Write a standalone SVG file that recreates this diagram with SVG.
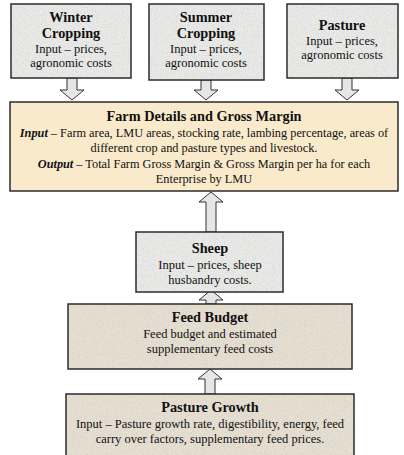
<svg xmlns="http://www.w3.org/2000/svg" width="404" height="455" viewBox="0 0 404 455">
<defs>
<style>
.box{stroke:#2b2b2b;stroke-width:1.5}
.gray{fill:#e9e9e7}
.farm{fill:#f9eacb}
.tan{fill:#e6dfd1}
.tex{filter:url(#noise)}
text{font-family:'Liberation Serif','Times New Roman',serif}
.t{fill:#111;text-anchor:middle}
.h{font-size:14.3px;font-weight:bold}
.b{font-size:12.5px}
.fb{font-size:12.3px}
.arr{fill:#e6e6e6;stroke:#333;stroke-width:1}
</style>
<filter id="noise" x="0" y="0" width="100%" height="100%">
<feTurbulence type="fractalNoise" baseFrequency="0.9" numOctaves="2" seed="4"/>
<feColorMatrix type="matrix" values="0 0 0 0 0.4  0 0 0 0 0.4  0 0 0 0 0.4  0.8 0 0 0 -0.38"/>
</filter>
</defs>
<rect width="404" height="455" fill="#fff"/>
<g id="connectors">
<path class="arr" d="M67,78 h10 v12 h7 l-12,10 l-12,-10 h7 z"/>
<path class="arr" d="M201,80 h10 v10 h7 l-12,10 l-12,-10 h7 z"/>
<path class="arr" d="M342,78 h10 v12 h7 l-12,10 l-12,-10 h7 z"/>
<path class="arr" d="M206,232 v-30 h-7 l12,-10 l12,10 h-7 v30 z"/>
<path class="arr" d="M206,304 v-4 h-7 l12,-10 l12,10 h-7 v4 z"/>
<path class="arr" d="M205,394 v-15 h-7 l12,-10 l12,10 h-7 v15 z"/>
</g>
<g id="winter">
<rect class="box gray" x="11" y="4" width="120" height="74"/>
<rect class="tex" x="12" y="5" width="118" height="72"/>
<text class="t h" x="71" y="22">Winter</text>
<text class="t h" x="71" y="38">Cropping</text>
<text class="t b" x="71" y="53">Input – prices,</text>
<text class="t b" x="71" y="67">agronomic costs</text>
</g>
<g id="summer">
<rect class="box gray" x="149" y="4" width="115" height="76"/>
<rect class="tex" x="150" y="5" width="113" height="74"/>
<text class="t h" x="206" y="22">Summer</text>
<text class="t h" x="206" y="38">Cropping</text>
<text class="t b" x="206" y="53">Input – prices,</text>
<text class="t b" x="206" y="67">agronomic costs</text>
</g>
<g id="pasture">
<rect class="box gray" x="287" y="4" width="111" height="74"/>
<rect class="tex" x="288" y="5" width="109" height="72"/>
<text class="t h" x="342" y="30">Pasture</text>
<text class="t b" x="342" y="45">Input – prices,</text>
<text class="t b" x="342" y="59">agronomic costs</text>
</g>
<g id="farm">
<rect class="box farm" x="10" y="102" width="388" height="89"/>
<text class="t h" x="204" y="121">Farm Details and Gross Margin</text>
<text class="t fb" x="204" y="137"><tspan font-weight="bold" font-style="italic">Input</tspan> – Farm area, LMU areas, stocking rate, lambing percentage, areas of</text>
<text class="t fb" x="204" y="152">different crop and pasture types and livestock.</text>
<text class="t fb" x="204" y="168"><tspan font-weight="bold" font-style="italic">Output</tspan> – Total Farm Gross Margin &amp; Gross Margin per ha for each</text>
<text class="t fb" x="204" y="183">Enterprise by LMU</text>
</g>
<g id="sheep">
<rect class="box gray" x="136" y="232" width="147" height="60"/>
<rect class="tex" x="137" y="233" width="145" height="58"/>
<text class="t h" x="210" y="253">Sheep</text>
<text class="t b" x="210" y="269">Input – prices, sheep</text>
<text class="t b" x="210" y="284">husbandry costs.</text>
</g>
<g id="feed">
<rect class="box tan" x="68" y="304" width="284" height="65"/>
<rect class="tex" x="69" y="305" width="282" height="63"/>
<text class="t h" x="210" y="322">Feed Budget</text>
<text class="t b" x="210" y="338">Feed budget and estimated</text>
<text class="t b" x="210" y="353">supplementary feed costs</text>
</g>
<g id="growth">
<rect class="box tan" x="66" y="394" width="288" height="70"/>
<rect class="tex" x="67" y="395" width="286" height="60"/>
<text class="t h" x="210" y="412">Pasture Growth</text>
<text class="t b" x="210" y="428">Input – Pasture growth rate, digestibility, energy, feed</text>
<text class="t b" x="210" y="443">carry over factors, supplementary feed prices.</text>
</g>
</svg>
